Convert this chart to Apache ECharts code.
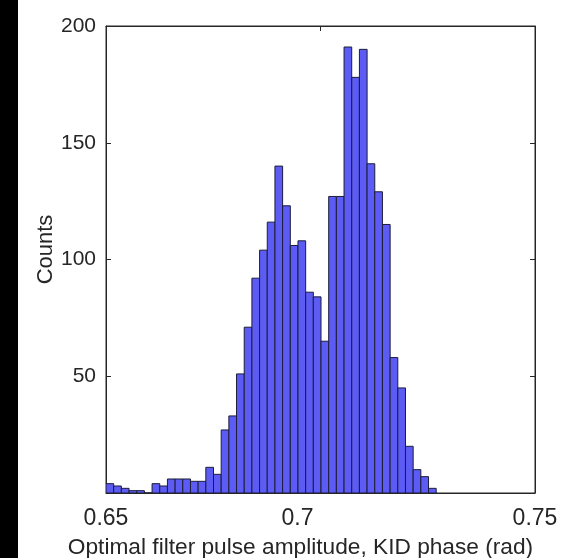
<!DOCTYPE html>
<html>
<head>
<meta charset="utf-8">
<script src="https://cdn.jsdelivr.net/npm/echarts@6/dist/echarts.min.js"></script>
<style>
html,body{margin:0;padding:0;background:#fff;}
#chart{width:577px;height:558px;}
</style>
</head>
<body>
<div id="chart"></div>
<script>
// Histogram data
const binStart = 0.65;
const binWidth = 0.00179;
const counts = [4, 3, 2, 1, 1, 0, 4, 3, 6, 6, 6, 5, 5, 11, 8, 27, 33, 51, 71, 92,
  104, 116, 140, 123, 106, 108, 86, 84, 65, 127, 127, 191, 178, 190, 141, 129, 115,
  58, 45, 20, 10, 7, 2];
const xTicks = [0.65, 0.7, 0.75];
const yTicks = [50, 100, 150, 200];
const xTitle = 'Optimal filter pulse amplitude, KID phase (rad)';
const yTitle = 'Counts';

const histData = counts.map((c, i) => [binStart + i * binWidth, binStart + (i + 1) * binWidth, c]);

const txt = '#262626';
const font = 'Liberation Sans, Arial, sans-serif';

const chart = echarts.init(document.getElementById('chart'), null, {renderer: 'canvas'});
chart.setOption({
  backgroundColor: '#ffffff',
  animation: false,
  grid: {left: 106, right: 42, top: 26, bottom: 65, show: true, containLabel: false,
    outerBoundsMode: 'none', backgroundColor: '#ffffff', borderColor: txt, borderWidth: 1},
  graphic: [{type: 'rect', left: 0, top: 0, shape: {width: 18, height: 558}, style: {fill: '#000'}, z: -10}],
  xAxis: [{
    type: 'value', min: 0.65, max: 0.75, interval: 0.05, position: 'bottom',
    axisLine: {show: true, onZero: false, lineStyle: {color: txt}},
    axisTick: {show: true, inside: true, length: 5, lineStyle: {color: txt}},
    splitLine: {show: false},
    axisLabel: {
      color: txt, fontSize: 23, fontFamily: font, margin: 14,
      formatter: v => {
        const s = String(+v.toFixed(2));
        return Math.abs(v - 0.7) < 1e-9 ? '{m|' + s + '}' : s;
      },
      rich: {m: {fontSize: 23, fontFamily: font, color: txt, padding: [0, 46, 0, 0]}}
    },
    name: xTitle, nameLocation: 'middle', nameGap: 43, nameMoveOverlap: false,
    nameTextStyle: {color: txt, fontSize: 22.7, fontFamily: font, padding: [0, 40, 0, 0]}
  }, {
    type: 'value', min: 0.65, max: 0.75, interval: 0.05, position: 'top',
    axisLine: {show: true, onZero: false, lineStyle: {color: txt}},
    axisTick: {show: true, inside: true, length: 5, lineStyle: {color: txt}},
    axisLabel: {show: false}, splitLine: {show: false}
  }],
  yAxis: [{
    type: 'value', min: 0, max: 200, interval: 50, position: 'left',
    axisLine: {show: true, onZero: false, lineStyle: {color: txt}},
    axisTick: {show: true, inside: true, length: 5, lineStyle: {color: txt}},
    splitLine: {show: false},
    axisLabel: {color: txt, fontSize: 21, fontFamily: font, margin: 10,
      formatter: v => (yTicks.includes(v) ? String(v) : '')},
    name: yTitle, nameLocation: 'middle', nameGap: 49, nameRotate: 90, nameMoveOverlap: false,
    nameTextStyle: {color: txt, fontSize: 22, fontFamily: font, padding: [0, 0, 0, 20]}
  }, {
    type: 'value', min: 0, max: 200, interval: 50, position: 'right',
    axisLine: {show: true, onZero: false, lineStyle: {color: txt}},
    axisTick: {show: true, inside: true, length: 5, lineStyle: {color: txt}},
    axisLabel: {show: false}, splitLine: {show: false}
  }],
  series: [{
    type: 'custom',
    xAxisIndex: 0, yAxisIndex: 0,
    data: histData,
    encode: {x: [0, 1], y: 2},
    clip: true,
    renderItem: (params, api) => {
      const p0 = api.coord([api.value(0), 0]);
      const p1 = api.coord([api.value(1), api.value(2)]);
      return {
        type: 'rect',
        shape: {x: p0[0], y: p1[1], width: p1[0] - p0[0], height: p0[1] - p1[1]},
        style: {fill: '#5c5cf4', stroke: '#1c1c3a', lineWidth: 1}
      };
    }
  }]
});
</script>
</body>
</html>
